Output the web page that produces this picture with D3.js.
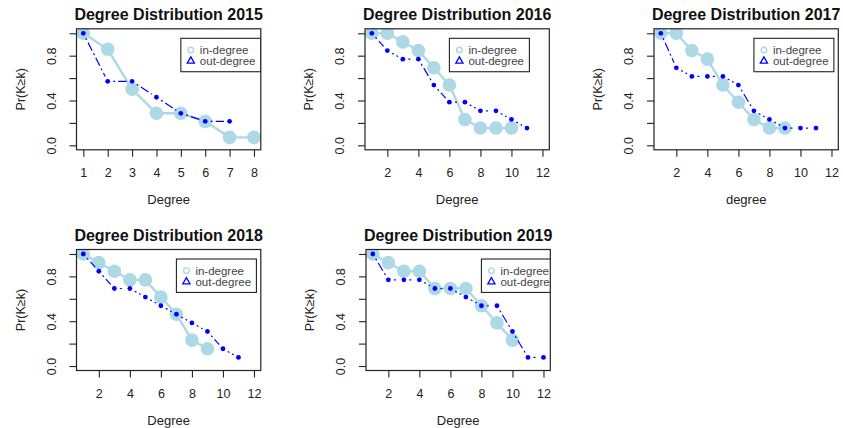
<!DOCTYPE html>
<html>
<head>
<meta charset="utf-8">
<script src="https://cdn.jsdelivr.net/npm/d3@7"></script>
<style>
  body { margin: 0; background: #fff; }
  svg { display: block; }
  text { font-family: "Liberation Sans", Arial, sans-serif; fill: #222; }
</style>
</head>
<body>
<div id="chart"></div>
<script>
// data: Pr(K >= k) for k = 1, 2, ...
const years = [2015, 2016, 2017, 2018, 2019];
const xTitles = ["Degree", "Degree", "degree", "Degree", "Degree"];
const yTicks = [0, 0.2, 0.4, 0.6, 0.8, 1.0];
const yTickLabels = ["0.0", "", "0.4", "", "0.8", ""];
const legendLabels = ["in-degree", "out-degree"];

const inDeg2015 = [1, 0.857, 0.5, 0.286, 0.286, 0.214, 0.071, 0.071];
const outDeg2015 = [1, 0.571, 0.571, 0.429, 0.286, 0.214, 0.214];
const inDeg2016 = [1, 1, 0.923, 0.846, 0.692, 0.538, 0.231, 0.154, 0.154, 0.154];
const outDeg2016 = [1, 0.846, 0.769, 0.769, 0.538, 0.385, 0.385, 0.308, 0.308, 0.231, 0.154];
const inDeg2017 = [1, 1, 0.846, 0.769, 0.538, 0.385, 0.231, 0.154, 0.154];
const outDeg2017 = [1, 0.692, 0.615, 0.615, 0.615, 0.538, 0.308, 0.231, 0.154, 0.154, 0.154];
const inDeg2018 = [1, 0.923, 0.846, 0.769, 0.769, 0.615, 0.462, 0.231, 0.154];
const outDeg2018 = [1, 0.846, 0.692, 0.692, 0.615, 0.538, 0.462, 0.385, 0.308, 0.154, 0.077];
const inDeg2019 = [1, 0.923, 0.846, 0.846, 0.692, 0.692, 0.692, 0.538, 0.385, 0.231];
const outDeg2019 = [1, 0.769, 0.769, 0.769, 0.692, 0.692, 0.615, 0.538, 0.538, 0.308, 0.077, 0.077];

const inSeries = [inDeg2015, inDeg2016, inDeg2017, inDeg2018, inDeg2019];
const outSeries = [outDeg2015, outDeg2016, outDeg2017, outDeg2018, outDeg2019];

// layout
const W = 184.3, H = 121;
const panels = [
  { left: 76.5, top: 28.8, xmin: 1, xmax: 8, ticks: [1, 2, 3, 4, 5, 6, 7, 8], legX: 5 },
  { left: 365, top: 28.8, xmin: 1, xmax: 12, ticks: [2, 4, 6, 8, 10, 12], legX: 6 },
  { left: 654, top: 28.8, xmin: 1, xmax: 12, ticks: [2, 4, 6, 8, 10, 12], legX: 7 },
  { left: 76.5, top: 249.5, xmin: 1, xmax: 12, ticks: [2, 4, 6, 8, 10, 12], legX: 7 },
  { left: 366, top: 249.5, xmin: 1, xmax: 12, ticks: [2, 4, 6, 8, 10, 12], legX: 8 }
];
const legY = 0.955;
const inColor = "#add8e6", outColor = "#0000ff";

const svg = d3.select("#chart").append("svg")
  .attr("width", 843)
  .attr("height", 428);

panels.forEach((p, i) => {
  const pad = 0.04 * (p.xmax - p.xmin);
  const x = d3.scaleLinear().domain([p.xmin - pad, p.xmax + pad]).range([p.left, p.left + W]);
  const y = d3.scaleLinear().domain([-0.04, 1.04]).range([p.top + H, p.top]);

  const g = svg.append("g");

  svg.append("clipPath").attr("id", "clip" + i)
    .append("rect")
    .attr("x", p.left).attr("y", p.top)
    .attr("width", W).attr("height", H);

  const plot = g.append("g").attr("clip-path", `url(#clip${i})`);

  // in-degree: light blue line + big dots
  const inPts = inSeries[i].map((v, k) => [k + 1, v]);
  plot.append("path")
    .datum(inPts)
    .attr("d", d3.line().x(d => x(d[0])).y(d => y(d[1])))
    .attr("fill", "none")
    .attr("stroke", inColor)
    .attr("stroke-width", 2.4);
  plot.selectAll(".inpt").data(inPts).enter().append("circle")
    .attr("cx", d => x(d[0])).attr("cy", d => y(d[1]))
    .attr("r", 6.8)
    .attr("fill", inColor);

  // out-degree: blue dashed segments with gaps (type="b") + small dots
  const outPts = outSeries[i].map((v, k) => [k + 1, v]);
  const gap = 5.5;
  d3.pairs(outPts).forEach(([a, b]) => {
    const x0 = x(a[0]), y0 = y(a[1]), x1 = x(b[0]), y1 = y(b[1]);
    const len = Math.hypot(x1 - x0, y1 - y0);
    if (len <= 2 * gap) return;
    const ux = (x1 - x0) / len, uy = (y1 - y0) / len;
    plot.append("line")
      .attr("x1", x0 + ux * gap).attr("y1", y0 + uy * gap)
      .attr("x2", x1 - ux * gap).attr("y2", y1 - uy * gap)
      .attr("stroke", outColor)
      .attr("stroke-width", 1.2)
      .attr("stroke-dasharray", "2,3,9,3");
  });
  plot.selectAll(".outpt").data(outPts).enter().append("circle")
    .attr("cx", d => x(d[0])).attr("cy", d => y(d[1]))
    .attr("r", 2.4)
    .attr("fill", outColor);

  // legend
  const lx = x(p.legX), ly = y(legY);
  const leg = plot.append("g").attr("transform", `translate(${lx},${ly})`);
  leg.append("rect")
    .attr("width", 80).attr("height", 33.4)
    .attr("fill", "#fff")
    .attr("stroke", "#222")
    .attr("stroke-width", 1.1);
  leg.append("circle")
    .attr("cx", 10).attr("cy", 11.7).attr("r", 2.8)
    .attr("fill", "none").attr("stroke", inColor).attr("stroke-width", 1.4);
  leg.append("path")
    .attr("d", d3.symbol().type(d3.symbolTriangle).size(22)())
    .attr("transform", "translate(10,22.7)")
    .attr("fill", "none").attr("stroke", outColor).attr("stroke-width", 1.3);
  leg.selectAll(".lt").data(legendLabels).enter().append("text")
    .attr("x", 19)
    .attr("y", (d, k) => 11.7 + k * 11)
    .attr("dy", "0.35em")
    .style("font-size", "11.5px")
    .style("fill", "#444")
    .text(d => d);

  // box
  g.append("rect")
    .attr("x", p.left).attr("y", p.top)
    .attr("width", W).attr("height", H)
    .attr("fill", "none")
    .attr("stroke", "#222")
    .attr("stroke-width", 1.2);

  // x axis
  const xa = g.append("g")
    .attr("transform", `translate(0,${p.top + H})`)
    .call(d3.axisBottom(x).tickValues(p.ticks).tickSize(7).tickPadding(11.5).tickFormat(d3.format("d")));
  xa.select(".domain").remove();
  xa.selectAll(".tick line").attr("stroke", "#222").attr("stroke-width", 1.1);
  xa.selectAll(".tick text").style("font-size", "12.5px").attr("fill", null);
  xa.attr("font-family", null).attr("font-size", null);

  // y axis
  const ya = g.append("g")
    .attr("transform", `translate(${p.left},0)`)
    .call(d3.axisLeft(y).tickValues(yTicks).tickSize(7).tickFormat((d, k) => yTickLabels[k]));
  ya.select(".domain").remove();
  ya.selectAll(".tick line").attr("stroke", "#222").attr("stroke-width", 1.1);
  ya.selectAll(".tick text")
    .attr("x", null).attr("dy", null)
    .attr("transform", "translate(-21,0) rotate(-90)")
    .attr("text-anchor", "middle")
    .attr("fill", null)
    .style("font-size", "12.5px");
  ya.attr("font-family", null).attr("font-size", null);

  // titles
  g.append("text")
    .attr("x", p.left + W / 2).attr("y", p.top - 8.8)
    .attr("text-anchor", "middle")
    .style("font-size", "16px")
    .style("font-weight", "bold")
    .style("fill", "#111")
    .text("Degree Distribution " + years[i]);
  g.append("text")
    .attr("x", p.left + W / 2).attr("y", p.top + H + 54)
    .attr("text-anchor", "middle")
    .style("font-size", "13px")
    .text(xTitles[i]);
  g.append("text")
    .attr("transform", `translate(${p.left - 52},${p.top + H / 2}) rotate(-90)`)
    .attr("text-anchor", "middle")
    .style("font-size", "12.5px")
    .text("Pr(K\u2265k)");
});
</script>
</body>
</html>
